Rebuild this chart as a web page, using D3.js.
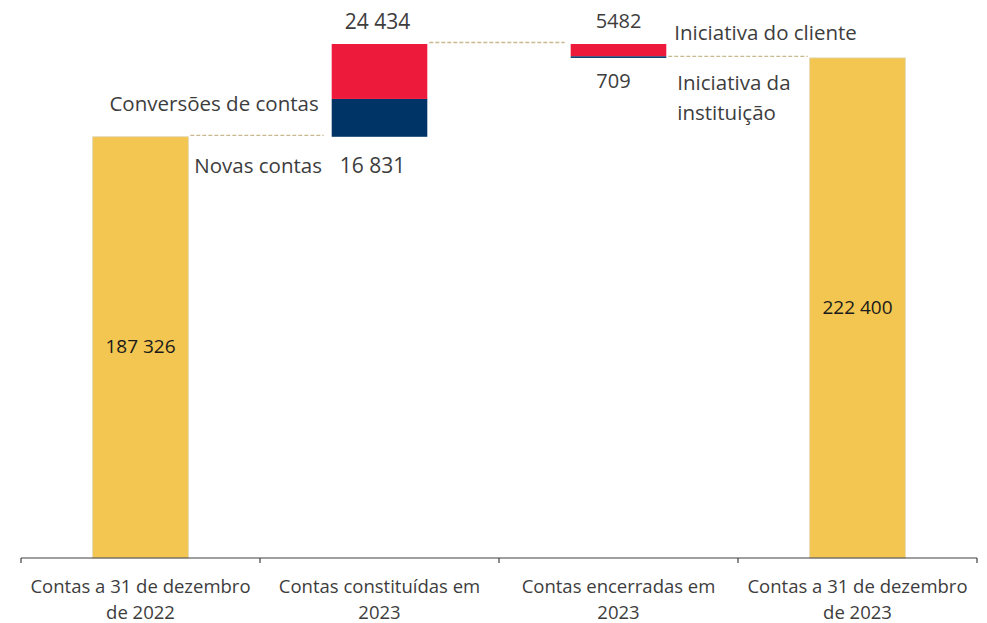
<!DOCTYPE html>
<html><head><meta charset="utf-8">
<script src="https://cdn.jsdelivr.net/npm/d3@7"></script>
<style>
html,body{margin:0;padding:0;background:#fff;}
text{font-family:"Open Sans",sans-serif;}
</style></head>
<body>
<svg id="chart" width="987" height="623"></svg>
<script>
// Data
const categories = [
  ["Contas a 31 de dezembro", "de 2022"],
  ["Contas constituídas em", "2023"],
  ["Contas encerradas em", "2023"],
  ["Contas a 31 de dezembro", "de 2023"]
];
const startTotal = 187326;
const newAccounts = 16831;      // Novas contas
const conversions = 24434;      // Conversões de contas
const closedClient = 5482;      // Iniciativa do cliente
const closedInstitution = 709;  // Iniciativa da instituição
const endTotal = 222400;
const valueLabels = ["187 326", "16 831", "24 434", "5482", "709", "222 400"];

const colors = {total:"#F2C650", red:"#EE1A3B", navy:"#003366", dash:"#C9B98F", text:"#3d3d3d"};

const svg = d3.select("#chart");
const baseY = 558;
const peak = startTotal + newAccounts + conversions;

const x = d3.scaleBand().domain(d3.range(categories.length)).range([21, 977]).paddingInner(0.6).paddingOuter(0.3);
const y = d3.scaleLinear().domain([0, peak]).range([baseY, 44]);

// segments
const segments = [
  {i:0, y0:0, y1:startTotal, c:colors.total, stroke:"#E0D3B0"},
  {i:1, y0:startTotal, y1:startTotal+newAccounts, c:colors.navy},
  {i:1, y0:startTotal+newAccounts, y1:peak, c:colors.red},
  {i:2, y0:peak-closedClient, y1:peak, c:colors.red},
  {i:2, y0:peak-closedClient-closedInstitution, y1:peak-closedClient, c:colors.navy},
  {i:3, y0:0, y1:endTotal, c:colors.total, stroke:"#E0D3B0"}
];

svg.selectAll("rect.seg").data(segments).join("rect")
  .attr("class","seg")
  .attr("x", d => x(d.i))
  .attr("width", x.bandwidth())
  .attr("y", d => y(d.y1))
  .attr("height", d => y(d.y0) - y(d.y1))
  .attr("fill", d => d.c)
  .attr("stroke", d => d.stroke || "none")
  .attr("stroke-width", 0.8);

// connectors
const connectors = [
  {from:0, to:1, v:startTotal, x2off:-8},
  {from:1, to:2, v:peak, x2off:-6},
  {from:2, to:3, v:endTotal, x2off:-2}
];
svg.selectAll("line.conn").data(connectors).join("line")
  .attr("class","conn")
  .attr("x1", d => x(d.from) + x.bandwidth() + 2)
  .attr("x2", d => x(d.to) + d.x2off)
  .attr("y1", d => y(d.v) - 1.5)
  .attr("y2", d => y(d.v) - 1.5)
  .attr("stroke", colors.dash)
  .attr("stroke-width", 1.3)
  .attr("stroke-dasharray", "4,2");

// axis
const gAxis = svg.append("g").attr("transform", `translate(0,${baseY})`);
gAxis.append("line").attr("x1",21).attr("x2",977).attr("y1",0).attr("y2",0).attr("stroke","#404040").attr("stroke-width",1.2);
const tickXs = d3.range(categories.length + 1).map(k => k === categories.length ? 977 : x(k) - x.step()*x.paddingInner()/2 - (k===0 ? x.step()*(x.paddingOuter()-x.paddingInner()/2) : 0));
gAxis.selectAll("line.tick").data(tickXs).join("line")
  .attr("class","tick")
  .attr("x1", d => d).attr("x2", d => d)
  .attr("y1", 0).attr("y2", 5)
  .attr("stroke","#404040").attr("stroke-width",1.2);

// category labels
categories.forEach((lines, i) => {
  const t = svg.append("text")
    .attr("x", x(i) + x.bandwidth()/2)
    .attr("y", 593)
    .attr("text-anchor","middle")
    .attr("font-size", 18.5)
    .attr("fill", colors.text);
  lines.forEach((l, k) => t.append("tspan").attr("x", x(i) + x.bandwidth()/2).attr("dy", k ? 26 : 0).text(l));
});

const cx = i => x(i) + x.bandwidth()/2;

// totals inside bars
svg.append("text").attr("x", cx(0)).attr("y", (y(startTotal)+baseY)/2 + 6)
  .attr("text-anchor","middle").attr("font-size",19).attr("fill","#1a1a1a").text(valueLabels[0]);
svg.append("text").attr("x", cx(3)).attr("y", (y(endTotal)+baseY)/2 + 6)
  .attr("text-anchor","middle").attr("font-size",19).attr("fill","#1a1a1a").text(valueLabels[5]);

// value labels for steps
const lab = (tx, ty, s, anchor, size) => svg.append("text").attr("x", tx).attr("y", ty)
  .attr("text-anchor", anchor).attr("font-size", size).attr("fill", colors.text).text(s);

lab(cx(1) - 7, y(startTotal) + 36, valueLabels[1], "middle", 21);
lab(cx(1) - 2, y(peak) - 15, valueLabels[2], "middle", 21);
lab(cx(2), y(peak) - 16, valueLabels[3], "middle", 20);
lab(cx(2) - 5, y(endTotal) + 30, valueLabels[4], "middle", 20);

// series annotations
lab(x(1) - 13, y(startTotal + newAccounts) + 12, "Conversões de contas", "end", 20.5);
lab(x(0) + x.bandwidth() + 6, y(startTotal) + 36, "Novas contas", "start", 20.5);
lab(x(2) + x.bandwidth() + 8, y(peak) - 4, "Iniciativa do cliente", "start", 20.5);
lab(x(2) + x.bandwidth() + 11, y(endTotal) + 32, "Iniciativa da", "start", 20.5);
lab(x(2) + x.bandwidth() + 11, y(endTotal) + 62, "instituição", "start", 20.5);
</script>
</body></html>
